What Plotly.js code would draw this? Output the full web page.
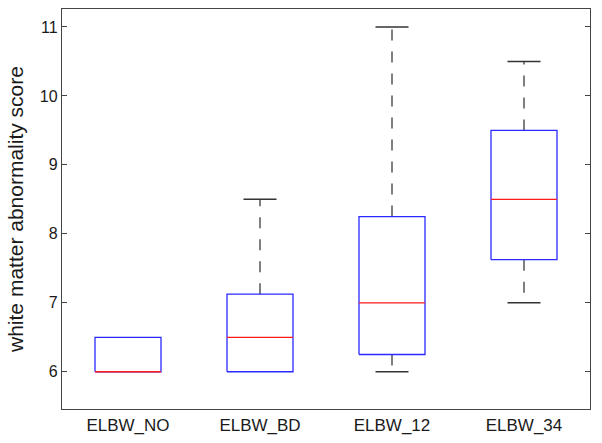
<!DOCTYPE html>
<html>
<head>
<meta charset="utf-8">
<script src="https://cdn.plot.ly/plotly-3.0.1.min.js"></script>
<style>
  html, body { margin: 0; padding: 0; background: #fff; }
  #root { width: 602px; height: 443px; }
</style>
</head>
<body>
<div id="root"></div>
<script>
// groups and box statistics
const categories = ['ELBW_NO', 'ELBW_BD', 'ELBW_12', 'ELBW_34'];
const positions = [1, 2, 3, 4];
const q1Values = [6, 6, 6.25, 7.625];
const medianValues = [6, 6.5, 7, 8.5];
const q3Values = [6.5, 7.125, 8.25, 9.5];
const lowerWhisker = [6, 6, 6, 7];
const upperWhisker = [6.5, 8.5, 11, 10.5];

const BOX_HALF = 0.25;
const CAP_HALF = 0.125;

// whiskers go from the box edge out to the whisker end (skipped when zero length)
const whiskX = [];
const whiskY = [];
const capX = [];
const capY = [];
for (let i = 0; i < positions.length; i++) {
    const p = positions[i];
    if (upperWhisker[i] !== q3Values[i]) {
        whiskX.push(p, p, null);
        whiskY.push(q3Values[i], upperWhisker[i], null);
        capX.push(p - CAP_HALF, p + CAP_HALF, null);
        capY.push(upperWhisker[i], upperWhisker[i], null);
    }
    if (lowerWhisker[i] !== q1Values[i]) {
        whiskX.push(p, p, null);
        whiskY.push(q1Values[i], lowerWhisker[i], null);
        capX.push(p - CAP_HALF, p + CAP_HALF, null);
        capY.push(lowerWhisker[i], lowerWhisker[i], null);
    }
}

// box outlines and median lines
const boxX = [];
const boxY = [];
const medX = [];
const medY = [];
for (let i = 0; i < positions.length; i++) {
    const a = positions[i] - BOX_HALF;
    const b = positions[i] + BOX_HALF;
    boxX.push(a, b, b, a, a, null);
    boxY.push(q1Values[i], q1Values[i], q3Values[i], q3Values[i], q1Values[i], null);
    medX.push(a, b, null);
    medY.push(medianValues[i], medianValues[i], null);
}

const data = [
    {
        type: 'scatter', mode: 'lines',
        x: whiskX, y: whiskY,
        line: { color: '#555555', width: 1.5, dash: '11px,11px' }
    },
    {
        type: 'scatter', mode: 'lines',
        x: capX, y: capY,
        line: { color: '#333333', width: 1.5 }
    },
    {
        type: 'scatter', mode: 'lines',
        x: boxX, y: boxY,
        line: { color: '#2a2aff', width: 1.3 }
    },
    {
        type: 'scatter', mode: 'lines',
        x: medX, y: medY,
        line: { color: '#ff1a1a', width: 1.3 }
    }
];

const layout = {
    width: 602,
    height: 443,
    margin: { l: 62, r: 12, t: 9, b: 34 },
    paper_bgcolor: '#ffffff',
    plot_bgcolor: '#ffffff',
    showlegend: false,
    font: { family: 'Liberation Sans, Arial, sans-serif', color: '#1a1a1a', size: 15 },
    xaxis: {
        range: [0.5, 4.5],
        tickmode: 'array',
        tickvals: positions,
        ticktext: categories,
        ticks: '',
        showgrid: false,
        zeroline: false,
        showline: true,
        mirror: true,
        linecolor: '#444444',
        linewidth: 1.2,
        tickfont: { size: 17 }
    },
    yaxis: {
        range: [5.46, 11.26],
        tickmode: 'array',
        tickvals: [6, 7, 8, 9, 10, 11],
        ticks: 'inside',
        ticklen: 5,
        tickcolor: '#444444',
        showgrid: false,
        zeroline: false,
        showline: true,
        mirror: 'ticks',
        linecolor: '#444444',
        linewidth: 1.2,
        tickfont: { size: 16 },
        title: { text: 'white matter abnormality score', font: { size: 21 }, standoff: 10 }
    }
};

Plotly.newPlot('root', data, layout, { displayModeBar: false, staticPlot: true });
</script>
</body>
</html>
